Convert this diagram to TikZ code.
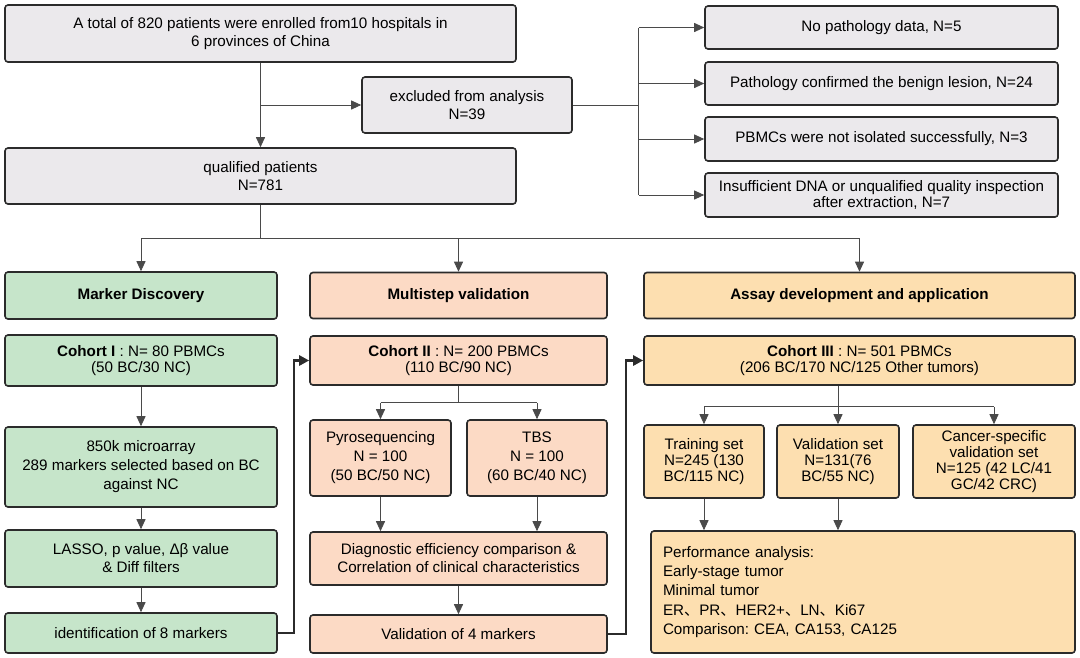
\documentclass[tikz,border=0pt]{standalone}
\usepackage{fontspec}
\setmainfont{Liberation Sans}
\newfontfamily\cjk{Noto Sans CJK SC}
\usetikzlibrary{arrows.meta}
\definecolor{edge}{HTML}{2B2B2B}
\definecolor{wire}{HTML}{4A4A4A}
\definecolor{grayfill}{HTML}{EBE9EC}
\definecolor{greenfill}{HTML}{C6E5CA}
\definecolor{salmonfill}{HTML}{FCDAC5}
\definecolor{orangefill}{HTML}{FDDFB0}
\frenchspacing
\begin{document}
\begin{tikzpicture}[x=1pt, y=-1pt, >={Triangle[length=10pt,width=9pt]},
	box/.style={draw=edge, line width=1.6pt, rounded corners=3pt, align=center, inner sep=1pt,
		font=\fontsize{15.2}{18}\selectfont},
	gbox/.style={box, fill=grayfill},
	mbox/.style={box, fill=greenfill},
	vbox/.style={box, fill=salmonfill},
	abox/.style={box, fill=orangefill},
	wire/.style={draw=wire, line width=0.9pt},
	thk/.style={draw=edge, line width=2.6pt, -{Triangle[length=10pt,width=10pt]}}]
	\useasboundingbox (0,0) rectangle (1080,657);
	% Enrolment
	\node[gbox, minimum width=511pt, minimum height=57pt] (top) at (260.5,33.5) {A total of 820 patients were enrolled from10 hospitals in\\6 provinces of China};
	\node[gbox, minimum width=210pt, minimum height=56pt] (excl) at (467,105) {excluded from analysis\\N=39};
	\node[gbox, minimum width=511pt, minimum height=56pt] (qual) at (260.5,176) {qualified patients\\N=781};
	\node[gbox, minimum width=353pt, minimum height=43pt] (ex1) at (881.5,27.5) {No pathology data, N=5};
	\node[gbox, minimum width=353pt, minimum height=43pt] (ex2) at (881.5,83.5) {Pathology confirmed the benign lesion, N=24};
	\node[gbox, minimum width=353pt, minimum height=44pt] (ex3) at (881.5,139) {PBMCs were not isolated successfully, N=3};
	\node[gbox, minimum width=353pt, minimum height=44pt, font=\fontsize{15.2}{16}\selectfont] (ex4) at (881.5,195) {Insufficient DNA or unqualified quality inspection\\after extraction, N=7};
	% Stage headers
	\node[mbox, minimum width=272pt, minimum height=47pt, font=\fontsize{15.2}{18}\selectfont\bfseries] (md) at (141,295.5) {Marker Discovery};
	\node[vbox, minimum width=297pt, minimum height=46pt, font=\fontsize{15.2}{18}\selectfont\bfseries] (mv) at (458.5,295.5) {Multistep validation};
	\node[abox, minimum width=431pt, minimum height=46pt, font=\fontsize{15.2}{18}\selectfont\bfseries] (ad) at (859.5,295.5) {Assay development and application};
	% Marker discovery
	\node[mbox, minimum width=272pt, minimum height=51pt, font=\fontsize{15.2}{16}\selectfont] (c1) at (141,360.5) {\textbf{Cohort I} : N= 80 PBMCs\\(50 BC/30 NC)};
	\node[mbox, minimum width=272pt, minimum height=80pt, font=\fontsize{15.2}{19}\selectfont] (m850) at (141,467) {850k microarray\\289 markers selected based on BC\\against NC};
	\node[mbox, minimum width=272pt, minimum height=57pt] (lasso) at (141,558.5) {LASSO, p value, Δβ value\\\& Diff filters};
	\node[mbox, minimum width=272pt, minimum height=40pt] (ident) at (141,633) {identification of 8 markers};
	% Multistep validation
	\node[vbox, minimum width=297pt, minimum height=49pt, font=\fontsize{15.2}{16}\selectfont] (c2) at (458.5,360.5) {\textbf{Cohort II} : N= 200 PBMCs\\(110 BC/90 NC)};
	\node[vbox, minimum width=141pt, minimum height=76pt, font=\fontsize{15.2}{19}\selectfont] (pyro) at (380.5,458) {Pyrosequencing\\N = 100\\(50 BC/50 NC)};
	\node[vbox, minimum width=140pt, minimum height=76pt, font=\fontsize{15.2}{19}\selectfont] (tbs) at (537,458) {TBS\\N = 100\\(60 BC/40 NC)};
	\node[vbox, minimum width=297pt, minimum height=53pt] (diag) at (458.5,558.5) {Diagnostic efficiency comparison \&\\Correlation of clinical characteristics};
	\node[vbox, minimum width=297pt, minimum height=38pt] (val4) at (458.5,634) {Validation of 4 markers};
	% Assay development
	\node[abox, minimum width=431pt, minimum height=49pt, font=\fontsize{15.2}{16}\selectfont] (c3) at (859.5,360.5) {\textbf{Cohort III} : N= 501 PBMCs\\(206 BC/170 NC/125 Other tumors)};
	\node[abox, minimum width=120pt, minimum height=73pt, font=\fontsize{15.2}{16}\selectfont] (train) at (704,461.5) {Training set\\N=245 (130\\BC/115 NC)};
	\node[abox, minimum width=122pt, minimum height=73pt, font=\fontsize{15.2}{16}\selectfont] (vset) at (838,461.5) {Validation set\\N=131(76\\BC/55 NC)};
	\node[abox, minimum width=162pt, minimum height=73pt, font=\fontsize{15.2}{16}\selectfont] (cspec) at (994,461.5) {Cancer-specific\\validation set\\N=125 (42 LC/41\\GC/42 CRC)};
	\node[abox, minimum height=122pt, text width=400pt, inner xsep=12pt, align=left, font=\fontsize{15.2}{19.3}\selectfont] (perf) at (863,592) {Performance analysis:\\Early-stage tumor\\Minimal tumor\\ER{\cjk 、}PR{\cjk 、}HER2+{\cjk 、}LN{\cjk 、}Ki67\\Comparison: CEA, CA153, CA125};
	% Connections
	%% Enrolment
	\draw [wire, ->] (top.south) to (qual.north);
	\draw [wire, ->] (top.south |- excl.west) to (excl.west);
	\draw [wire] (excl.east) -- ++(66,0) coordinate (eb);
	\draw [wire] (eb |- ex1.west) -- (eb |- ex4.west);
	\foreach \n in {ex1,ex2,ex3,ex4}
		\draw [wire, ->] (eb |- \n.west) to (\n.west);
	\draw [wire] (qual.south) -- ++(0,34) coordinate (bus);
	\draw [wire] (md.north |- bus) -- (ad.north |- bus);
	\foreach \n in {md,mv,ad}
		\draw [wire, ->] (\n.north |- bus) to (\n.north);
	%% Columns
	\draw [wire, ->] (c1.south) to (m850.north);
	\draw [wire, ->] (m850.south) to (lasso.north);
	\draw [wire, ->] (lasso.south) to (ident.north);
	\draw [wire] (c2.south) -- ++(0,17) coordinate (s2);
	\draw [wire] (pyro.north |- s2) -- (tbs.north |- s2);
	\foreach \n in {pyro,tbs}
		\draw [wire, ->] (\n.north |- s2) to (\n.north);
	\draw [wire, ->] (pyro.south) to (pyro.south |- diag.north);
	\draw [wire, ->] (tbs.south) to (tbs.south |- diag.north);
	\draw [wire, ->] (diag.south) to (val4.north);
	\draw [wire] (vset.north |- c3.south) -- ++(0,21) coordinate (s3);
	\draw [wire] (train.north |- s3) -- (cspec.north |- s3);
	\foreach \n in {train,vset,cspec}
		\draw [wire, ->] (\n.north |- s3) to (\n.north);
	\draw [wire, ->] (train.south) to (train.south |- perf.north);
	\draw [wire, ->] (vset.south) to (vset.south |- perf.north);
	%% Between stages
	\draw [thk] (ident.east) -- ++(16,0) |- (c2.west);
	\draw [thk] (val4.east) -- ++(18,0) |- (c3.west);
\end{tikzpicture}
\end{document}
